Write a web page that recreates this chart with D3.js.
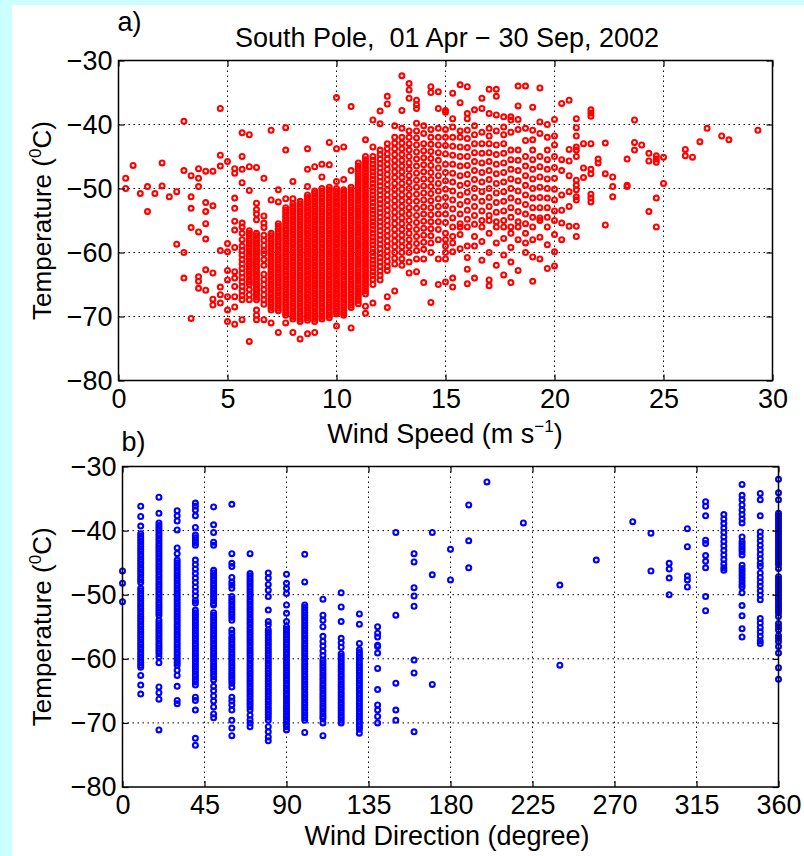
<!DOCTYPE html>
<html>
<head>
<meta charset="utf-8">
<script src="https://cdn.jsdelivr.net/npm/d3@7"></script>
<style>
  html, body { margin: 0; padding: 0; background: #ccffff; }
  svg { display: block; }
  text { font-family: "Liberation Sans", Arial, sans-serif; fill: #000; white-space: pre; }
</style>
</head>
<body>
<svg id="chart" width="804" height="856"></svg>
<script>
// South Pole, Apr-Sep 2002: temperature vs wind speed (a) and wind direction (b).
// Values, grouped by the (quantised) x value.
// Where markers pile up into a solid band, the band is listed densely.

// panel a: wind speed columns, m/s
const speedCols = [0.33, 0.67, 1.0, 1.33, 1.67, 2.0, 2.33, 2.67, 3.0, 3.33, 3.67, 4.0, 4.33, 4.67, 5.0, 5.33,
  5.67, 6.0, 6.33, 6.67, 7.0, 7.33, 7.67, 8.0, 8.33, 8.67, 9.0, 9.33, 9.67, 10.0, 10.33, 10.67, 11.0, 11.33,
  11.67, 12.0, 12.33, 12.67, 13.0, 13.33, 13.67, 14.0, 14.33, 14.67, 15.0, 15.33, 15.67, 16.0, 16.33, 16.67,
  17.0, 17.33, 17.67, 18.0, 18.33, 18.67, 19.0, 19.33, 19.67, 20.0, 20.33, 20.67, 21.0, 21.33, 21.67, 22.0,
  22.33, 22.67, 23.33, 23.67, 24.0, 24.33, 24.67, 25.0, 26.0, 26.33, 26.67, 27.0, 27.67, 28.0, 29.33];

// panel a: temperatures (degC) seen in each wind speed column
const speedTemps = [
  [-48.4, -50.0],
  [-46.4],
  [-50.8],
  [-49.7, -53.6],
  [-50.8],
  [-46.0, -49.6],
  [-51.3],
  [-50.5, -58.7],
  [-39.5, -47.2, -60.0, -64.0],
  [-48.0, -51.3, -53.1, -56.1, -70.3],
  [-46.9, -48.4, -49.7, -56.8, -63.8, -64.5, -65.6],
  [-47.3, -52.2, -53.6, -55.5, -57.9, -62.7, -65.9],
  [-47.3, -52.7, -63.2, -67.3, -68.2],
  [-37.5, -44.8, -46.5, -59.7, -65.4, -66.6, -67.9],
  [-45.8, -58.6, -59.9, -62.8, -64.3, -66.9, -69.0, -70.8],
  [-46.9, -47.6, -51.5, -53.1, -55.1, -56.5, -59.2, -63.0, -64.0, -65.3, -66.9, -68.5, -71.2],
  [-41.3, -45.0, -47.0, -49.1, -55.4, -56.0, -57.0, -58.0, -59.0, -59.7, -60.4, -61.1, -61.8, -62.5, -63.2, -63.9, -64.6, -65.3, -66.0, -66.7, -67.4, -70.5],
  [-41.6, -46.6, -50.3, -56.6, -57.0, -57.4, -57.8, -58.2, -58.6, -59.0, -59.4, -59.8, -60.2, -60.6, -61.0, -61.4, -61.8, -62.2, -62.6, -63.0, -63.4, -63.8, -64.2, -64.6, -65.0, -65.8, -66.6, -67.4, -73.9],
  [-46.7, -52.3, -53.3, -54.0, -54.9, -57.0, -57.4, -57.8, -58.2, -58.6, -59.0, -59.4, -59.8, -60.2, -60.6, -61.0, -61.4, -61.8, -62.2, -62.6, -63.0, -63.4, -63.8, -64.2, -64.6, -65.0, -65.4, -65.8, -66.2, -66.6, -67.0, -67.4, -69.0, -69.8, -70.5],
  [-48.4, -54.3, -55.4, -56.1, -57.3, -58.1, -58.9, -59.7, -60.2, -61.1, -62.0, -63.4, -64.2, -65.0, -65.8, -66.6, -67.4, -68.1, -70.5],
  [-40.9, -51.8, -57.0, -57.4, -57.8, -58.2, -58.6, -59.0, -59.4, -59.8, -60.2, -60.6, -61.0, -61.4, -61.8, -62.2, -62.6, -63.0, -63.4, -63.8, -64.2, -64.6, -65.0, -65.4, -65.8, -66.2, -66.6, -67.0, -67.4, -67.8, -68.2, -68.6, -69.0, -71.0],
  [-50.2, -52.1, -55.5, -55.9, -56.3, -56.7, -57.1, -57.5, -57.9, -58.3, -58.7, -59.1, -59.5, -59.9, -60.3, -60.7, -61.1, -61.5, -61.9, -62.3, -62.7, -63.1, -63.5, -63.9, -64.3, -64.7, -65.1, -65.5, -65.9, -66.3, -66.7, -67.1, -67.5, -67.9, -68.3, -68.7, -69.1, -72.5],
  [-40.5, -44.0, -51.6, -53.0, -53.4, -53.8, -54.2, -54.6, -55.0, -55.4, -55.8, -56.2, -56.6, -57.0, -57.4, -57.8, -58.2, -58.6, -59.0, -59.4, -59.8, -60.2, -60.6, -61.0, -61.4, -61.8, -62.2, -62.6, -63.0, -63.4, -63.8, -64.2, -64.6, -65.0, -65.4, -65.8, -66.2, -66.6, -67.0, -67.4, -67.8, -68.2, -68.6, -69.0, -69.4, -69.8, -71.0],
  [-48.9, -51.6, -52.4, -52.8, -53.2, -53.6, -54.0, -54.4, -54.8, -55.2, -55.6, -56.0, -56.4, -56.8, -57.2, -57.6, -58.0, -58.4, -58.8, -59.2, -59.6, -60.0, -60.4, -60.8, -61.2, -61.6, -62.0, -62.4, -62.8, -63.2, -63.6, -64.0, -64.4, -64.8, -65.2, -65.6, -66.0, -66.4, -66.8, -67.2, -67.6, -68.0, -68.4, -68.8, -69.2, -69.6, -70.0, -70.4, -72.5],
  [-52.0, -52.4, -52.8, -53.2, -53.6, -54.0, -54.4, -54.8, -55.2, -55.6, -56.0, -56.4, -56.8, -57.2, -57.6, -58.0, -58.4, -58.8, -59.2, -59.6, -60.0, -60.4, -60.8, -61.2, -61.6, -62.0, -62.4, -62.8, -63.2, -63.6, -64.0, -64.4, -64.8, -65.2, -65.6, -66.0, -66.4, -66.8, -67.2, -67.6, -68.0, -68.4, -68.8, -69.2, -69.6, -70.0, -70.4, -70.8, -73.5],
  [-43.8, -47.0, -49.7, -51.0, -51.4, -51.8, -52.2, -52.6, -53.0, -53.4, -53.8, -54.2, -54.6, -55.0, -55.4, -55.8, -56.2, -56.6, -57.0, -57.4, -57.8, -58.2, -58.6, -59.0, -59.4, -59.8, -60.2, -60.6, -61.0, -61.4, -61.8, -62.2, -62.6, -63.0, -63.4, -63.8, -64.2, -64.6, -65.0, -65.4, -65.8, -66.2, -66.6, -67.0, -67.4, -67.8, -68.2, -68.6, -69.0, -69.4, -69.8, -70.2, -70.6, -72.7],
  [-46.6, -50.4, -50.8, -51.2, -51.6, -52.0, -52.4, -52.8, -53.2, -53.6, -54.0, -54.4, -54.8, -55.2, -55.6, -56.0, -56.4, -56.8, -57.2, -57.6, -58.0, -58.4, -58.8, -59.2, -59.6, -60.0, -60.4, -60.8, -61.2, -61.6, -62.0, -62.4, -62.8, -63.2, -63.6, -64.0, -64.4, -64.8, -65.2, -65.6, -66.0, -66.4, -66.8, -67.2, -67.6, -68.0, -68.4, -68.8, -69.2, -69.6, -70.0, -70.4, -70.8, -72.5],
  [-46.2, -48.2, -50.0, -50.4, -50.8, -51.2, -51.6, -52.0, -52.4, -52.8, -53.2, -53.6, -54.0, -54.4, -54.8, -55.2, -55.6, -56.0, -56.4, -56.8, -57.2, -57.6, -58.0, -58.4, -58.8, -59.2, -59.6, -60.0, -60.4, -60.8, -61.2, -61.6, -62.0, -62.4, -62.8, -63.2, -63.6, -64.0, -64.4, -64.8, -65.2, -65.6, -66.0, -66.4, -66.8, -67.2, -67.6, -68.0, -68.4, -68.8, -69.2, -69.6, -70.0, -70.4],
  [-42.8, -46.3, -49.8, -50.2, -50.6, -51.0, -51.4, -51.8, -52.2, -52.6, -53.0, -53.4, -53.8, -54.2, -54.6, -55.0, -55.4, -55.8, -56.2, -56.6, -57.0, -57.4, -57.8, -58.2, -58.6, -59.0, -59.4, -59.8, -60.2, -60.6, -61.0, -61.4, -61.8, -62.2, -62.6, -63.0, -63.4, -63.8, -64.2, -64.6, -65.0, -65.4, -65.8, -66.2, -66.6, -67.0, -67.4, -67.8, -68.2, -68.6, -69.0, -69.4, -69.8, -70.2],
  [-35.8, -43.8, -48.9, -50.0, -50.4, -50.8, -51.2, -51.6, -52.0, -52.4, -52.8, -53.2, -53.6, -54.0, -54.4, -54.8, -55.2, -55.6, -56.0, -56.4, -56.8, -57.2, -57.6, -58.0, -58.4, -58.8, -59.2, -59.6, -60.0, -60.4, -60.8, -61.2, -61.6, -62.0, -62.4, -62.8, -63.2, -63.6, -64.0, -64.4, -64.8, -65.2, -65.6, -66.0, -66.4, -66.8, -67.2, -67.6, -68.0, -68.4, -68.8, -69.2, -69.6, -71.5],
  [-43.5, -48.6, -50.2, -50.6, -51.0, -51.4, -51.8, -52.2, -52.6, -53.0, -53.4, -53.8, -54.2, -54.6, -55.0, -55.4, -55.8, -56.2, -56.6, -57.0, -57.4, -57.8, -58.2, -58.6, -59.0, -59.4, -59.8, -60.2, -60.6, -61.0, -61.4, -61.8, -62.2, -62.6, -63.0, -63.4, -63.8, -64.2, -64.6, -65.0, -65.4, -65.8, -66.2, -66.6, -67.0, -67.4, -67.8, -68.2, -68.6, -69.0, -69.4, -69.8],
  [-37.2, -47.2, -49.8, -50.2, -50.6, -51.0, -51.4, -51.8, -52.2, -52.6, -53.0, -53.4, -53.8, -54.2, -54.6, -55.0, -55.4, -55.8, -56.2, -56.6, -57.0, -57.4, -57.8, -58.2, -58.6, -59.0, -59.4, -59.8, -60.2, -60.6, -61.0, -61.4, -61.8, -62.2, -62.6, -63.0, -63.4, -63.8, -64.2, -64.6, -65.0, -65.4, -65.8, -66.2, -66.6, -67.0, -67.4, -67.8, -68.2, -68.6, -71.8],
  [-46.0, -46.5, -47.0, -47.5, -48.0, -48.5, -49.0, -49.5, -50.0, -50.5, -51.0, -51.5, -52.0, -52.5, -53.0, -53.5, -54.0, -54.5, -55.0, -55.5, -56.0, -56.5, -57.0, -57.5, -58.0, -58.5, -59.0, -59.5, -60.0, -60.5, -61.0, -61.5, -62.0, -62.5, -63.0, -63.5, -64.0, -64.5, -65.0, -65.5, -66.0, -66.5, -67.0, -67.5, -68.0],
  [-42.4, -45.0, -45.5, -46.0, -46.5, -47.0, -47.5, -48.0, -48.5, -49.0, -49.5, -50.0, -50.5, -51.0, -51.5, -52.0, -52.5, -53.0, -53.5, -54.0, -54.5, -55.0, -55.5, -56.0, -56.5, -57.0, -57.5, -58.0, -58.5, -59.0, -59.5, -60.0, -60.5, -61.0, -61.5, -62.0, -62.5, -63.0, -63.5, -64.0, -64.5, -65.0, -65.5, -66.0, -66.5, -68.4, -69.5],
  [-39.3, -43.5, -45.0, -45.6, -46.2, -46.8, -47.4, -48.0, -48.6, -49.2, -49.8, -50.4, -51.0, -51.6, -52.2, -52.8, -53.4, -54.0, -54.6, -55.2, -55.8, -56.4, -57.0, -57.6, -58.2, -58.8, -59.4, -60.0, -60.6, -61.2, -61.8, -62.4, -63.0, -63.6, -64.2, -65.0, -67.9],
  [-37.9, -39.9, -44.0, -44.7, -45.4, -46.1, -46.8, -47.5, -48.2, -48.9, -49.6, -50.3, -51.0, -51.7, -52.4, -53.1, -53.8, -54.5, -55.2, -55.9, -56.6, -57.3, -58.0, -58.7, -59.4, -60.1, -60.8, -61.5, -62.2, -62.9, -63.6, -64.3],
  [-35.6, -36.8, -43.0, -43.8, -44.6, -45.4, -46.2, -47.0, -47.8, -48.6, -49.4, -50.2, -51.0, -51.8, -52.6, -53.4, -54.2, -55.0, -55.8, -56.6, -57.4, -58.2, -59.0, -59.8, -60.6, -61.4, -62.2, -62.8, -66.9, -68.6],
  [-40.2, -42.0, -42.9, -43.8, -44.7, -45.6, -46.5, -47.4, -48.3, -49.2, -50.1, -51.0, -51.9, -52.8, -53.7, -54.6, -55.5, -56.4, -57.3, -58.2, -59.1, -60.0, -60.9, -61.8, -66.0],
  [-32.4, -37.8, -40.6, -42.0, -42.9, -43.8, -44.7, -45.6, -46.5, -47.4, -48.3, -49.2, -50.1, -51.0, -51.9, -52.8, -53.7, -54.6, -55.5, -56.4, -57.3, -58.2, -59.1, -60.0, -61.0, -62.0],
  [-33.6, -34.6, -35.9, -41.0, -42.0, -43.0, -44.0, -45.0, -46.0, -47.0, -48.0, -49.0, -50.0, -51.0, -52.0, -53.0, -54.0, -55.0, -56.0, -57.0, -58.0, -59.0, -60.0, -61.5, -63.2],
  [-36.2, -36.9, -37.5, -39.8, -41.0, -42.1, -43.2, -44.3, -45.4, -46.5, -47.6, -48.7, -49.8, -50.9, -52.0, -53.1, -54.2, -55.3, -56.4, -57.5, -58.6, -59.7, -61.0, -63.0],
  [-40.2, -41.4, -43.0, -44.1, -45.2, -46.3, -47.4, -48.5, -49.6, -50.7, -51.8, -52.9, -54.0, -55.1, -56.2, -57.3, -58.4, -59.5, -61.0, -64.7],
  [-34.1, -35.0, -40.8, -42.0, -43.1, -44.2, -45.3, -46.4, -47.5, -48.6, -49.7, -50.8, -51.9, -53.0, -54.1, -55.2, -56.3, -57.4, -58.5, -60.0, -67.8],
  [-34.9, -37.5, -40.6, -42.0, -43.2, -44.4, -45.6, -46.8, -48.0, -49.2, -50.4, -51.6, -52.8, -54.0, -55.2, -56.4, -58.0, -61.0, -65.0],
  [-37.8, -38.1, -40.8, -42.0, -43.3, -44.6, -46.2, -47.5, -48.8, -50.1, -51.4, -52.7, -54.0, -55.3, -57.0, -58.0, -59.0, -60.0, -61.0, -64.6],
  [-35.1, -39.1, -40.4, -42.0, -43.4, -44.8, -46.2, -47.6, -49.0, -50.4, -51.8, -53.2, -54.6, -56.0, -57.5, -58.5, -59.9, -64.0, -65.4],
  [-33.8, -36.6, -41.0, -42.0, -43.5, -45.0, -46.5, -48.0, -49.5, -51.0, -52.5, -54.0, -55.5, -56.0, -57.2, -59.4],
  [-34.1, -38.3, -39.1, -40.9, -42.2, -43.6, -45.0, -46.4, -47.8, -49.2, -50.6, -52.0, -53.4, -54.8, -56.0, -59.0, -60.8, -62.6, -64.9],
  [-37.7, -40.2, -41.6, -43.0, -44.4, -45.8, -47.2, -48.6, -50.0, -51.4, -52.8, -54.2, -55.6, -57.5, -59.0, -64.0],
  [-35.9, -37.5, -41.2, -43.0, -44.5, -46.0, -47.5, -49.0, -50.5, -52.0, -53.5, -55.0, -56.0, -58.3, -61.2],
  [-34.5, -38.3, -40.6, -41.8, -43.0, -44.4, -45.8, -47.2, -48.6, -50.0, -51.4, -52.8, -54.2, -55.0, -57.0, -60.0, -64.3, -65.2],
  [-34.5, -35.6, -38.5, -41.0, -43.2, -44.7, -46.2, -47.7, -49.2, -50.7, -52.2, -53.7, -55.2, -56.0, -58.5, -62.0],
  [-38.8, -40.4, -41.6, -43.0, -44.5, -46.0, -47.5, -49.0, -50.5, -52.0, -53.5, -55.0, -56.0, -57.8, -60.4, -63.5],
  [-38.8, -39.3, -41.2, -44.0, -45.5, -47.0, -48.5, -50.0, -51.5, -53.0, -54.5, -56.0, -57.0, -59.2, -61.5, -64.7],
  [-34.0, -37.1, -39.2, -40.8, -44.0, -45.6, -47.2, -48.8, -50.4, -52.0, -53.6, -55.2, -56.0, -58.0, -62.8],
  [-34.0, -40.6, -42.5, -45.0, -46.5, -48.0, -49.5, -51.0, -52.5, -54.0, -55.5, -57.0, -58.5, -60.0],
  [-37.3, -40.9, -42.4, -44.0, -45.5, -47.0, -48.5, -50.0, -51.5, -53.0, -54.5, -56.0, -58.0, -60.7, -64.5],
  [-34.3, -39.6, -41.4, -45.0, -46.6, -48.2, -49.8, -51.4, -53.0, -54.6, -55.0, -57.6, -61.0],
  [-40.0, -42.0, -44.0, -45.5, -47.0, -48.5, -50.0, -51.5, -53.0, -54.5, -56.0, -58.8, -62.5],
  [-39.2, -41.8, -43.2, -45.0, -46.7, -48.4, -50.1, -51.8, -53.5, -55.0, -57.2, -59.9, -62.1],
  [-36.7, -45.5, -47.2, -51.0, -53.4, -55.4, -58.0],
  [-36.2, -43.9, -45.7, -48.0, -50.5, -52.8, -55.9],
  [-39.1, -40.5, -41.8, -43.5, -44.0, -45.0, -48.7, -49.5, -50.2, -51.3, -51.8, -55.9, -57.5],
  [-43.0, -46.8, -48.3],
  [-37.7, -38.2, -38.7, -43.0, -47.0, -47.7, -50.9, -51.5, -52.1],
  [-45.4, -46.0],
  [-42.9, -47.7, -55.7],
  [-48.2, -49.7, -51.3],
  [-45.4, -49.5, -49.7],
  [-39.3, -42.8, -44.0],
  [-43.2],
  [-44.5, -45.7, -53.6],
  [-44.9, -45.4, -45.9, -51.5, -56.0],
  [-45.1, -49.2],
  [-43.9, -44.9],
  [-45.1],
  [-42.7],
  [-40.6],
  [-41.8],
  [-42.4],
  [-40.9]
];

// panel b: wind direction columns, degrees
const dirCols = [0, 10, 20, 30, 40, 50, 60, 70, 80, 90, 100, 110, 120, 130, 140, 150, 160, 170, 180, 190,
  200, 220, 240, 260, 280, 290, 300, 310, 320, 330, 340, 350, 360];

// panel b: temperatures (degC) seen in each direction column
const dirTemps = [
  [-46.3, -48.2, -51.1],
  [-36.2, -37.8, -39.3, -40.5, -40.9, -41.3, -41.7, -42.1, -42.5, -42.9, -43.3, -43.7, -44.1, -44.5, -44.9, -45.3, -45.7, -46.1, -46.5, -46.9, -47.3, -47.7, -48.1, -49.0, -49.4, -49.8, -50.2, -50.6, -51.0, -51.4, -51.8, -52.2, -52.6, -53.0, -53.4, -53.8, -54.2, -54.6, -55.0, -55.4, -55.8, -56.2, -56.6, -57.0, -57.4, -57.8, -58.2, -58.6, -59.0, -59.4, -59.8, -60.2, -60.6, -61.0, -61.3, -62.6, -64.1, -65.5],
  [-34.8, -37.3, -38.8, -39.2, -39.6, -40.0, -40.4, -40.8, -41.2, -41.6, -42.0, -42.4, -42.8, -43.2, -43.6, -44.0, -44.4, -44.8, -45.2, -45.6, -46.0, -46.4, -46.8, -47.2, -47.6, -48.0, -48.4, -48.8, -49.2, -49.6, -50.0, -50.4, -50.8, -51.2, -51.6, -52.0, -52.4, -52.8, -53.2, -54.0, -54.4, -54.8, -55.2, -55.6, -56.0, -56.4, -56.8, -57.2, -57.6, -58.0, -58.4, -58.8, -59.2, -59.7, -60.6, -64.4, -65.3, -66.3, -71.1],
  [-36.9, -37.7, -38.5, -39.9, -42.7, -43.6, -44.6, -45.0, -45.4, -45.8, -46.2, -46.6, -47.0, -47.4, -47.8, -48.2, -48.6, -49.0, -49.4, -49.8, -50.2, -50.6, -51.0, -51.4, -51.8, -52.2, -52.6, -53.0, -53.4, -53.8, -54.2, -54.6, -55.0, -55.4, -55.8, -56.2, -56.6, -57.0, -57.4, -57.8, -58.2, -58.6, -59.0, -59.4, -59.8, -60.2, -60.6, -61.0, -61.8, -62.6, -64.3, -66.5, -67.0],
  [-35.7, -36.2, -36.8, -37.7, -39.5, -40.7, -41.1, -41.5, -41.9, -42.3, -44.6, -45.3, -46.0, -46.7, -47.4, -48.1, -48.8, -49.5, -50.2, -50.9, -51.3, -52.4, -52.8, -53.2, -53.6, -54.0, -54.4, -54.8, -55.2, -55.6, -56.0, -56.4, -56.8, -57.2, -57.6, -58.0, -58.4, -58.8, -59.2, -59.6, -60.0, -60.4, -60.8, -61.2, -61.6, -62.0, -62.4, -62.8, -63.2, -63.6, -64.1, -66.0, -66.5, -68.0, -72.4, -73.5],
  [-36.3, -39.1, -40.3, -41.8, -42.3, -46.2, -46.6, -47.0, -47.4, -47.8, -48.2, -48.6, -49.0, -49.4, -49.8, -50.2, -50.6, -51.0, -51.4, -51.6, -52.8, -53.2, -53.6, -54.0, -54.4, -54.8, -55.2, -55.6, -56.0, -56.4, -56.8, -57.2, -57.6, -58.0, -58.4, -58.8, -59.2, -59.6, -60.0, -60.4, -60.8, -61.2, -61.6, -62.0, -62.4, -62.8, -63.3, -64.3, -65.0, -65.8, -66.6, -67.5, -68.6, -69.2],
  [-35.9, -43.6, -45.1, -45.6, -47.3, -48.0, -48.5, -49.0, -50.3, -50.7, -51.1, -51.5, -51.9, -52.3, -52.7, -53.1, -53.5, -54.0, -55.5, -56.0, -56.6, -57.0, -57.4, -57.8, -58.2, -58.6, -59.0, -59.4, -59.8, -60.2, -60.6, -61.0, -61.4, -61.8, -62.2, -62.6, -63.0, -63.4, -63.8, -64.4, -66.0, -66.6, -67.2, -68.0, -69.6, -70.8, -72.0],
  [-43.6, -46.7, -47.1, -47.5, -47.9, -48.3, -48.7, -49.1, -49.5, -49.9, -50.3, -50.7, -51.1, -51.5, -51.9, -52.3, -52.7, -53.1, -53.5, -53.9, -54.3, -54.7, -55.1, -55.5, -55.9, -56.3, -56.7, -57.1, -57.5, -57.9, -58.3, -58.7, -59.1, -59.5, -59.9, -60.3, -60.7, -61.1, -61.5, -61.9, -62.3, -62.7, -63.1, -63.5, -63.9, -64.3, -64.7, -65.1, -65.5, -65.9, -66.3, -66.7, -67.1, -67.5, -68.0, -68.8, -69.5, -70.0, -70.6],
  [-46.6, -47.4, -48.4, -49.3, -50.3, -52.4, -54.2, -54.7, -55.5, -55.9, -56.3, -56.7, -57.1, -57.5, -57.9, -58.3, -58.7, -59.1, -59.5, -59.9, -60.3, -60.7, -61.1, -61.5, -61.9, -62.3, -62.7, -63.1, -63.5, -63.9, -64.3, -64.7, -65.1, -65.5, -65.9, -66.3, -66.7, -67.1, -67.5, -67.9, -68.3, -68.7, -69.1, -69.6, -70.6, -71.4, -72.2, -72.8],
  [-46.8, -48.2, -49.0, -49.8, -51.6, -52.9, -54.2, -55.0, -55.4, -55.8, -56.2, -56.6, -57.0, -57.4, -57.8, -58.2, -58.6, -59.0, -59.4, -59.8, -60.2, -60.6, -61.0, -61.4, -61.8, -62.2, -62.6, -63.0, -63.4, -63.8, -64.2, -64.6, -65.0, -65.4, -65.8, -66.2, -66.6, -67.0, -67.4, -67.8, -68.2, -68.6, -69.0, -69.4, -69.8, -70.2, -70.6, -71.1],
  [-43.7, -48.0, -51.6, -52.0, -52.4, -52.8, -53.2, -53.6, -54.0, -54.4, -54.8, -55.2, -55.6, -56.0, -56.4, -56.8, -57.2, -57.6, -58.0, -58.4, -58.8, -59.2, -59.6, -60.0, -60.4, -60.8, -61.2, -61.6, -62.0, -62.4, -62.8, -63.2, -63.6, -64.0, -64.4, -64.8, -65.2, -65.6, -66.0, -66.4, -66.8, -67.2, -67.6, -68.0, -68.4, -68.8, -69.2, -69.6, -71.5],
  [-50.7, -53.2, -54.0, -55.0, -56.5, -57.3, -58.0, -58.8, -59.5, -60.2, -60.6, -61.0, -61.4, -61.8, -62.2, -62.6, -63.0, -63.4, -63.8, -64.2, -64.6, -65.0, -65.4, -65.8, -66.2, -66.6, -67.0, -67.4, -67.8, -68.2, -68.6, -69.0, -69.3, -70.0, -72.0],
  [-49.7, -51.9, -54.2, -56.8, -57.5, -58.2, -59.2, -59.6, -60.0, -60.4, -60.8, -61.2, -61.6, -62.0, -62.4, -62.8, -63.2, -63.6, -64.0, -64.4, -64.8, -65.2, -65.6, -66.0, -66.4, -66.8, -67.2, -67.6, -68.0, -68.4, -68.8, -69.2, -69.6, -70.0],
  [-53.0, -54.6, -57.6, -58.6, -59.0, -59.4, -59.8, -60.2, -60.6, -61.0, -61.4, -61.8, -62.2, -62.6, -63.0, -63.4, -63.8, -64.2, -64.6, -65.0, -65.4, -65.8, -66.2, -66.6, -67.0, -67.4, -67.8, -68.2, -68.6, -69.0, -69.4, -69.8, -70.2, -70.6, -71.0, -71.6],
  [-55.0, -56.0, -56.6, -57.9, -58.1, -59.1, -61.5, -64.8, -67.2, -68.0, -69.0, -70.0],
  [-40.3, -53.2, -63.8, -68.0, -69.6],
  [-43.6, -44.9, -48.9, -50.2, -51.8, -60.2, -62.2, -71.4],
  [-40.3, -46.9, -64.0],
  [-42.9, -47.7],
  [-36.0, -41.6, -45.8],
  [-32.4],
  [-38.8],
  [-48.5, -61.0],
  [-44.6],
  [-38.6],
  [-40.4, -46.3],
  [-45.1, -46.0, -47.4, -50.0],
  [-39.7, -42.5, -47.1, -47.7, -48.8],
  [-35.5, -36.2, -37.7, -41.5, -42.0, -43.9, -44.8, -45.8, -50.3, -52.5],
  [-37.5, -38.2, -38.9, -39.6, -40.3, -41.0, -41.7, -42.4, -43.1, -43.8, -44.5, -45.2, -45.8, -46.2],
  [-32.8, -34.5, -35.2, -36.0, -36.8, -37.5, -38.2, -38.8, -41.0, -41.7, -42.1, -42.5, -42.9, -43.3, -43.8, -45.4, -45.9, -46.4, -46.9, -47.4, -47.9, -48.4, -48.8, -49.7, -51.7, -53.3, -55.3, -56.6],
  [-34.2, -35.2, -37.7, -40.2, -40.9, -41.6, -42.3, -43.0, -43.7, -44.4, -45.1, -45.6, -46.6, -47.3, -48.0, -48.7, -49.4, -50.1, -50.8, -53.7, -54.4, -55.1, -55.8, -56.5, -57.2, -57.6],
  [-32.0, -34.1, -35.2, -37.3, -37.7, -38.1, -38.5, -38.9, -39.3, -39.7, -40.1, -40.5, -40.9, -41.3, -41.7, -42.1, -42.5, -42.9, -43.3, -43.7, -44.1, -44.5, -44.9, -45.3, -45.9, -47.2, -47.6, -48.0, -48.4, -48.8, -49.2, -49.6, -50.0, -50.4, -50.8, -51.2, -51.6, -52.0, -52.4, -52.8, -53.4, -54.5, -55.0, -55.5, -56.4, -56.8, -57.3, -58.1, -59.1, -61.4, -63.2]
];

const tempTicks = [-80, -70, -60, -50, -40, -30];
const speedTicks = [0, 5, 10, 15, 20, 25, 30];
const dirTicks = [0, 45, 90, 135, 180, 225, 270, 315, 360];

const FONT = 27;
const svg = d3.select("#chart");

// white page area over the cyan slide background
svg.append("rect").attr("x", 12).attr("y", 5).attr("width", 792).attr("height", 851).attr("fill", "#fff");

svg.append("text").attr("x", 447).attr("y", 47).attr("text-anchor", "middle")
  .attr("font-size", FONT).text("South Pole,  01 Apr \u2212 30 Sep, 2002");

function drawPanel(p) {
  const g = svg.append("g");
  const x = d3.scaleLinear().domain(p.xDomain).range([p.left, p.right]);
  const y = d3.scaleLinear().domain([-80, -30]).range([p.bottom, p.top]);

  // dotted grid at the inner ticks
  const grid = g.append("g").attr("stroke", "#000").attr("stroke-width", 1).attr("stroke-dasharray", "1.5,3.5");
  grid.selectAll(".gx").data(p.xTicks.slice(1, -1)).join("line")
    .attr("x1", d => x(d)).attr("x2", d => x(d)).attr("y1", p.top).attr("y2", p.bottom);
  grid.selectAll(".gy").data(tempTicks.slice(1, -1)).join("line")
    .attr("y1", d => y(d)).attr("y2", d => y(d)).attr("x1", p.left).attr("x2", p.right);

  // markers: small thick-rimmed rings like the original 'o' symbols
  const pts = [];
  p.cols.forEach((c, i) => p.temps[i].forEach(t => pts.push([c, t])));
  g.append("g").selectAll("circle").data(pts).join("circle")
    .attr("cx", d => x(d[0])).attr("cy", d => y(d[1])).attr("r", 2.45)
    .attr("fill", "none").attr("stroke", p.color).attr("stroke-width", 2.1);

  // axes, ticks pointing inward on all four sides
  const style = a => a.attr("font-size", FONT).attr("font-family", "Liberation Sans, Arial, sans-serif")
    .call(s => s.select(".domain").remove())
    .call(s => s.selectAll("line").attr("stroke", "#000").attr("stroke-width", 1.2));
  g.append("g").attr("transform", `translate(0,${p.bottom})`)
    .call(d3.axisBottom(x).tickValues(p.xTicks).tickFormat(d3.format("d")).tickSize(-6).tickPadding(8)).call(style);
  g.append("g").attr("transform", `translate(0,${p.top})`)
    .call(d3.axisTop(x).tickValues(p.xTicks).tickFormat("").tickSize(-6)).call(style);
  g.append("g").attr("transform", `translate(${p.left},0)`)
    .call(d3.axisLeft(y).tickValues(tempTicks).tickFormat(d3.format("d")).tickSize(-6).tickPadding(6)).call(style);
  g.append("g").attr("transform", `translate(${p.right},0)`)
    .call(d3.axisRight(y).tickValues(tempTicks).tickFormat("").tickSize(-6)).call(style);
  g.selectAll(".tick text").attr("fill", "#000");

  g.append("rect").attr("x", p.left).attr("y", p.top)
    .attr("width", p.right - p.left).attr("height", p.bottom - p.top)
    .attr("fill", "none").attr("stroke", "#000").attr("stroke-width", 1.5);

  // panel letter
  g.append("text").attr("x", p.left - 1).attr("y", p.letterY).attr("font-size", FONT).text(p.letter);

  // x title
  const xt = g.append("text").attr("x", p.xTitleX).attr("y", p.xTitleY)
    .attr("text-anchor", "middle").attr("font-size", FONT);
  xt.append("tspan").text(p.xTitle);
  if (p.xSup) {
    xt.append("tspan").attr("font-size", 17).attr("dy", -11).text(p.xSup);
    xt.append("tspan").attr("dy", 11).text(")");
  }

  // y title
  const yt = g.append("text").attr("transform", `translate(51,${(p.top + p.bottom) / 2}) rotate(-90)`)
    .attr("text-anchor", "middle").attr("font-size", 26);
  yt.append("tspan").text("Temperature (");
  yt.append("tspan").attr("font-size", 17).attr("dy", -10).text("0");
  yt.append("tspan").attr("dy", 10).text("C)");
}

drawPanel({
  letter: "a)", letterY: 31, left: 118.5, right: 772.5, top: 60.5, bottom: 380.5,
  xDomain: [0, 30], xTicks: speedTicks, cols: speedCols, temps: speedTemps, color: "#ff0000",
  xTitle: "Wind Speed (m s", xSup: "\u22121", xTitleX: 445, xTitleY: 443
});
drawPanel({
  letter: "b)", letterY: 451, left: 122.5, right: 778.5, top: 466.5, bottom: 787,
  xDomain: [0, 360], xTicks: dirTicks, cols: dirCols, temps: dirTemps, color: "#0000ff",
  xTitle: "Wind Direction (degree)", xSup: null, xTitleX: 447, xTitleY: 845
});
</script>
</body>
</html>
